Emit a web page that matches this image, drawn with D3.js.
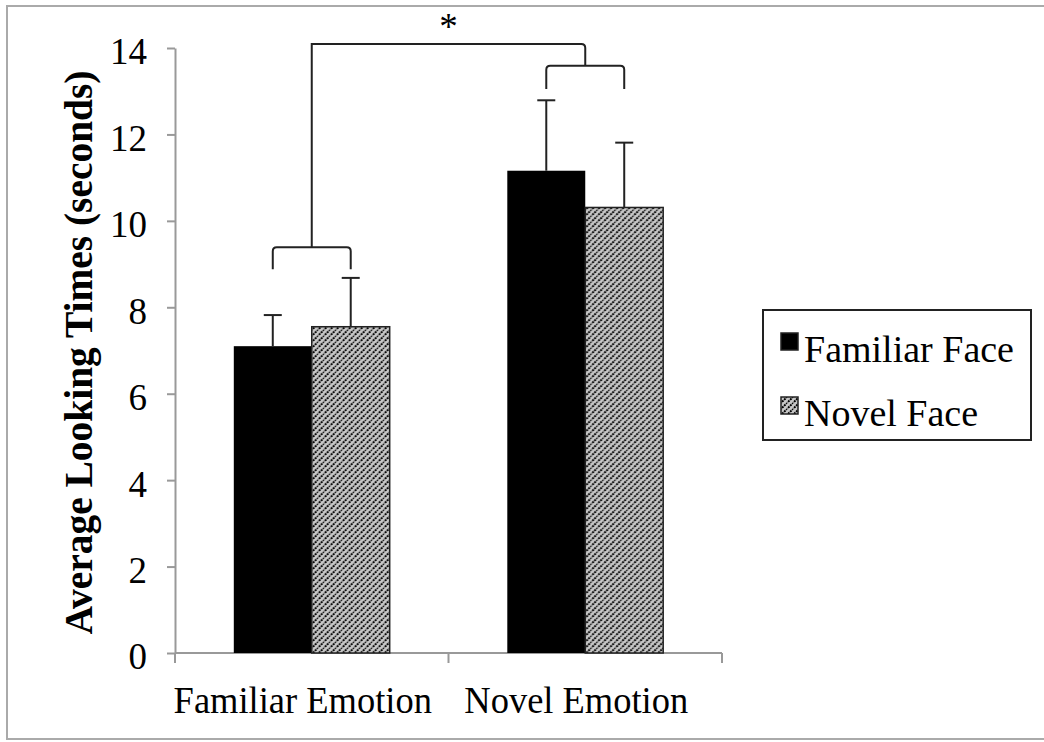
<!DOCTYPE html>
<html>
<head>
<meta charset="utf-8">
<script src="https://cdn.jsdelivr.net/npm/d3@7"></script>
<style>
  body { margin: 0; background: #fff; }
  svg { display: block; }
</style>
</head>
<body>
<svg></svg>
<script>
const categories = ["Familiar Emotion", "Novel Emotion"];
const seriesNames = ["Familiar Face", "Novel Face"];
const familiarFace = [7.1, 11.16];
const novelFace = [7.55, 10.31];
const familiarFaceErr = [0.72, 1.63];
const novelFaceErr = [1.13, 1.5];
const yTicks = [0, 2, 4, 6, 8, 10, 12, 14];

// significance brackets (in data units)
const groupBracketTop = [9.39, 13.59];
const groupBracketTip = [8.88, 13.05];
const topBracket = 14.09;

const width = 1044;
const height = 742;
const font = "'Liberation Serif', 'Times New Roman', serif";

const svg = d3.select("svg").attr("width", width).attr("height", height);

const rows = categories.map((c, i) => ({
  category: c,
  values: [
    { name: seriesNames[0], value: familiarFace[i], err: familiarFaceErr[i] },
    { name: seriesNames[1], value: novelFace[i], err: novelFaceErr[i] },
  ],
}));

const x0 = d3
  .scaleBand()
  .domain(categories)
  .range([175, 722])
  .paddingInner(0.43)
  .paddingOuter(0.215);

const x1 = d3.scaleBand().domain(seriesNames).range([0, x0.bandwidth()]);

const y = d3.scaleLinear().domain([0, 14]).range([653, 48]);

const fillFor = (name) => (name === seriesNames[0] ? "#000" : "url(#hatch)");

// hatch pattern
const defs = svg.append("defs");
const pat = defs
  .append("pattern")
  .attr("id", "hatch")
  .attr("patternUnits", "userSpaceOnUse")
  .attr("width", 6)
  .attr("height", 6);
pat.append("rect").attr("width", 6).attr("height", 6).attr("fill", "#c8c8c8");
pat
  .append("path")
  .attr("d", "M-1,7 L7,-1 M-2,2 L2,-2 M4,8 L8,4")
  .attr("stroke", "#000")
  .attr("stroke-width", 1.9)
  .attr("stroke-dasharray", "2,0.9");

// outer frame
svg
  .append("rect")
  .attr("x", 7)
  .attr("y", 6)
  .attr("width", 1040)
  .attr("height", 733)
  .attr("fill", "none")
  .attr("stroke", "#aaa")
  .attr("stroke-width", 2);

// y axis
const yAxis = d3
  .axisLeft(y)
  .tickValues(yTicks)
  .tickSize(8)
  .tickSizeOuter(0)
  .tickPadding(20);

const gy = svg.append("g").attr("transform", "translate(175,0)").call(yAxis);
gy.selectAll("path, line").attr("stroke", "#999").attr("stroke-width", 2);
gy.selectAll("text")
  .attr("font-family", font)
  .attr("font-size", 37)
  .attr("fill", "#000")
  .attr("dy", "0.43em");

// x axis (ticks at band boundaries)
const gx = svg.append("g");
gx.append("line")
  .attr("x1", x0.range()[0])
  .attr("x2", x0.range()[1])
  .attr("y1", y(0))
  .attr("y2", y(0))
  .attr("stroke", "#999")
  .attr("stroke-width", 2);
gx.selectAll(".tick")
  .data(d3.range(categories.length + 1))
  .enter()
  .append("line")
  .attr("x1", (i) => x0.range()[0] + i * x0.step())
  .attr("x2", (i) => x0.range()[0] + i * x0.step())
  .attr("y1", y(0))
  .attr("y2", y(0) + 10)
  .attr("stroke", "#999")
  .attr("stroke-width", 2);

gx.selectAll(".cat")
  .data(categories)
  .enter()
  .append("text")
  .attr("class", "cat")
  .attr("transform", (d) => `translate(${x0(d) + x0.bandwidth() / 2 - 9},${y(0) + 60}) scale(0.96,1)`)
  .attr("text-anchor", "middle")
  .attr("font-family", font)
  .attr("font-size", 38)
  .text((d) => d);

// y title
svg
  .append("text")
  .attr("transform", `translate(92,${(y(0) + y(14)) / 2 + 2}) rotate(-90)`)
  .attr("text-anchor", "middle")
  .attr("font-family", font)
  .attr("font-weight", "bold")
  .attr("font-size", 39)
  .attr("textLength", 564)
  .attr("lengthAdjust", "spacingAndGlyphs")
  .text("Average Looking Times (seconds)");

// bars
const groups = svg
  .selectAll(".group")
  .data(rows)
  .enter()
  .append("g")
  .attr("transform", (d) => `translate(${x0(d.category)},0)`);

groups
  .selectAll("rect")
  .data((d) => d.values)
  .enter()
  .append("rect")
  .attr("x", (d) => x1(d.name))
  .attr("width", x1.bandwidth())
  .attr("y", (d) => y(d.value))
  .attr("height", (d) => y(0) - y(d.value))
  .attr("fill", (d) => fillFor(d.name))
  .attr("stroke", (d) => (d.name === seriesNames[0] ? "none" : "#222"))
  .attr("stroke-width", 1.5);

// error bars
const eb = groups
  .selectAll(".err")
  .data((d) => d.values)
  .enter()
  .append("g")
  .attr("stroke", "#222")
  .attr("stroke-width", 2);
eb.append("line")
  .attr("x1", (d) => x1(d.name) + x1.bandwidth() / 2)
  .attr("x2", (d) => x1(d.name) + x1.bandwidth() / 2)
  .attr("y1", (d) => y(d.value))
  .attr("y2", (d) => y(d.value + d.err));
eb.append("line")
  .attr("x1", (d) => x1(d.name) + x1.bandwidth() / 2 - 9)
  .attr("x2", (d) => x1(d.name) + x1.bandwidth() / 2 + 9)
  .attr("y1", (d) => y(d.value + d.err))
  .attr("y2", (d) => y(d.value + d.err));

// brackets
const r = 4;
const bracket = (xa, xb, yTop, yTip) =>
  `M${xa},${yTip} V${yTop + r} Q${xa},${yTop} ${xa + r},${yTop} H${xb - r} Q${xb},${yTop} ${xb},${yTop + r} V${yTip}`;

const barCenter = (c, s) => x0(c) + x1(s) + x1.bandwidth() / 2;
const groupCenter = (c) => x0(c) + x0.bandwidth() / 2;

categories.forEach((c, i) => {
  svg
    .append("path")
    .attr("d", bracket(barCenter(c, seriesNames[0]), barCenter(c, seriesNames[1]), y(groupBracketTop[i]), y(groupBracketTip[i])))
    .attr("fill", "none")
    .attr("stroke", "#222")
    .attr("stroke-width", 2);
});

const gx1 = groupCenter(categories[0]);
const gx2 = groupCenter(categories[1]);
svg
  .append("path")
  .attr(
    "d",
    `M${gx1},${y(groupBracketTop[0])} V${y(topBracket)} H${gx2 - r} Q${gx2},${y(topBracket)} ${gx2},${y(topBracket) + r} V${y(groupBracketTop[1])}`
  )
  .attr("fill", "none")
  .attr("stroke", "#222")
  .attr("stroke-width", 2);

svg
  .append("text")
  .attr("x", (gx1 + gx2) / 2)
  .attr("y", y(topBracket) - 5)
  .attr("text-anchor", "middle")
  .attr("font-family", font)
  .attr("font-size", 37)
  .text("*");

// legend
const legend = svg.append("g");
legend
  .append("rect")
  .attr("x", 763)
  .attr("y", 310)
  .attr("width", 268)
  .attr("height", 130)
  .attr("fill", "#fff")
  .attr("stroke", "#222")
  .attr("stroke-width", 2);

const items = legend
  .selectAll(".item")
  .data(seriesNames)
  .enter()
  .append("g")
  .attr("transform", (d, i) => `translate(781,${333 + i * 64})`);
items
  .append("rect")
  .attr("width", 17)
  .attr("height", 17)
  .attr("fill", (d) => fillFor(d))
  .attr("stroke", "#222")
  .attr("stroke-width", 1.5);
items
  .append("text")
  .attr("x", 23)
  .attr("y", 29)
  .attr("font-family", font)
  .attr("font-size", 38)
  .text((d) => d);
</script>
</body>
</html>
